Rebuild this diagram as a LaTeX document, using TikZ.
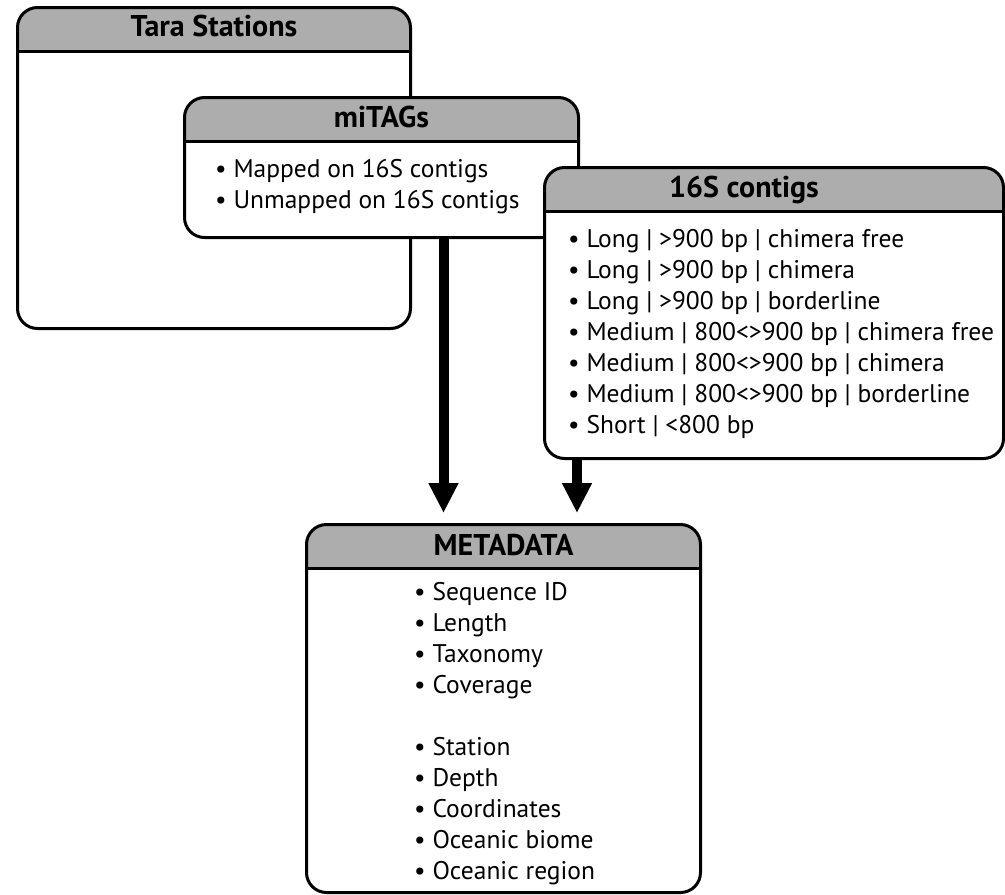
\documentclass[tikz,border=0pt]{standalone}
\usepackage{fontspec}
\setmainfont{PT Sans}
\usetikzlibrary{arrows.meta}

\definecolor{headgray}{RGB}{173,173,173}

\tikzset{
  panel/.style={draw, line width=3pt, rounded corners=20pt, fill=white,
    anchor=north west, inner sep=0pt,
    path picture={
      \fill[headgray, sharp corners] (path picture bounding box.north west)
        rectangle ([yshift=-44pt]path picture bounding box.north east);
      \draw[line width=2.5pt, sharp corners] ([yshift=-44pt]path picture bounding box.north west)
        -- ([yshift=-44pt]path picture bounding box.north east);
    }},
  headtext/.style={font=\fontsize{30}{34}\selectfont\bfseries, inner sep=0pt, anchor=base},
  itemtext/.style={font=\fontsize{25.5}{31}\selectfont, align=left, inner sep=0pt, anchor=base west},
  fatarrow/.style={line width=10pt, -{Triangle[width=28pt,length=30pt]}, shorten >=10pt},
}

\begin{document}
\begin{tikzpicture}[x=1pt,y=-1pt]
\useasboundingbox (0,0) rectangle (1005,895);

% boxes, back to front (list nodes sit on the baseline of their last line)
\node[panel, minimum width=393pt, minimum height=321pt] (tara) at (16,6) {};
\node[headtext] (tara-title) at ([yshift=-30pt]tara.north) {Tara Stations};

\node[panel, minimum width=394pt, minimum height=140pt] (mitags) at (183,96) {};
\node[headtext] (mitags-title) at ([yshift=-31pt]mitags.north) {miTAGs};
\node[itemtext] (mitags-list) at ([xshift=32pt,yshift=-112pt]mitags.north west)
  {• Mapped on 16S contigs\\
   • Unmapped on 16S contigs};

\node[panel, minimum width=459pt, minimum height=291pt] (contigs) at (543,166) {};
\node[headtext] (contigs-title) at ([xshift=-30pt,yshift=-31pt]contigs.north) {16S contigs};
\node[itemtext] (contigs-list) at ([xshift=25pt,yshift=-267pt]contigs.north west)
  {• Long | >900 bp | chimera free\\
   • Long | >900 bp | chimera\\
   • Long | >900 bp | borderline\\
   • Medium | 800<>900 bp | chimera free\\
   • Medium | 800<>900 bp | chimera\\
   • Medium | 800<>900 bp | borderline\\
   • Short | <800 bp};

\node[panel, minimum width=394pt, minimum height=368pt] (meta) at (305,523) {};
\node[headtext] (meta-title) at ([yshift=-32pt]meta.north) {METADATA};
\node[itemtext] (meta-list) at ([xshift=109pt,yshift=-356pt]meta.north west)
  {• Sequence ID\\
   • Length\\
   • Taxonomy\\
   • Coverage\\[31pt]
   • Station\\
   • Depth\\
   • Coordinates\\
   • Oceanic biome\\
   • Oceanic region};

% flows into the metadata table
\draw[fatarrow] ([xshift=62pt]mitags.south) -- ([xshift=62pt]mitags.south |- meta.north);
\draw[fatarrow] ([xshift=34pt]contigs.south west) -- ([xshift=34pt]contigs.south west |- meta.north);

\end{tikzpicture}
\end{document}
